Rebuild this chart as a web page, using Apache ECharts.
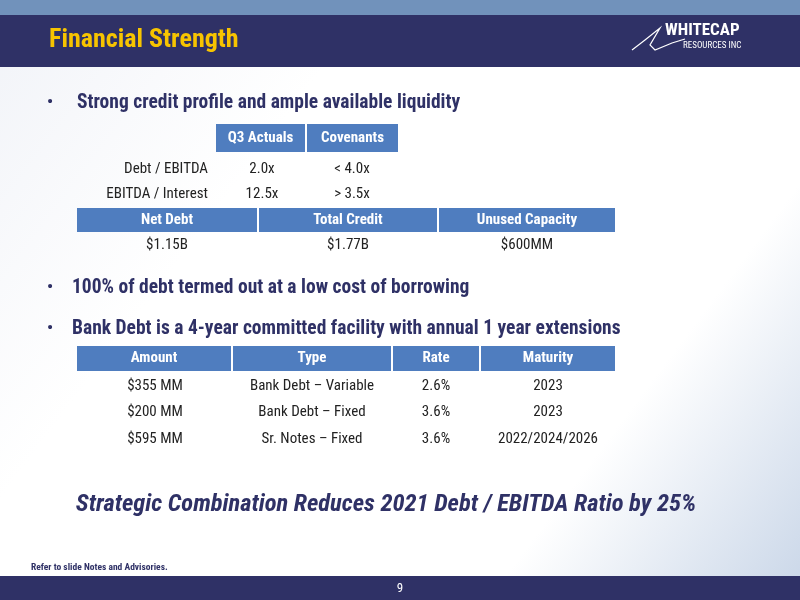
<!DOCTYPE html>
<html><head><meta charset="utf-8">
<script src="https://cdn.jsdelivr.net/npm/echarts@6/dist/echarts.min.js"></script>
<style>html,body{margin:0;padding:0}#c{width:800px;height:600px}</style></head>
<body><div id="c"></div>
<script>
const title = 'Financial Strength';
const bullets = ['Strong credit profile and ample available liquidity','100% of debt termed out at a low cost of borrowing','Bank Debt is a 4-year committed facility with annual 1 year extensions'];
const t1Headers = ['Q3 Actuals','Covenants'];
const t1Rows = ['Debt / EBITDA','EBITDA / Interest'];
const t1Actuals = ['2.0x','12.5x'];
const t1Covenants = ['< 4.0x','> 3.5x'];
const t2Headers = ['Net Debt','Total Credit','Unused Capacity'];
const t2Values = ['$1.15B','$1.77B','$600MM'];
const t3Headers = ['Amount','Type','Rate','Maturity'];
const t3Amount = ['$355 MM','$200 MM','$595 MM'];
const t3Type = ['Bank Debt \u2013 Variable','Bank Debt \u2013 Fixed','Sr. Notes \u2013 Fixed'];
const t3Rate = ['2.6%','3.6%','3.6%'];
const t3Maturity = ['2023','2023','2022/2024/2026'];
const tagline = 'Strategic Combination Reduces 2021 Debt / EBITDA Ratio by 25%';
const footnote = 'Refer to slide Notes and Advisories.';
const pageNo = '9';

const F = 'Liberation Sans Narrow, Roboto Condensed, Liberation Sans, sans-serif';
const NAVY = '#2f3166', HB = '#4f7dbf';
const g = [];
g.push({type:'rect',shape:{x:0,y:0,width:800,height:600},style:{fill:new echarts.graphic.LinearGradient(0,0,1,1,[{offset:0,color:'#f1f3f8'},{offset:0.3,color:'#ffffff'},{offset:0.75,color:'#ffffff'},{offset:1,color:'#c9d6e8'}])}});
g.push({type:'rect',shape:{x:0,y:0,width:800,height:15},style:{fill:'#7192bb'}});
g.push({type:'rect',shape:{x:0,y:15,width:800,height:52},style:{fill:NAVY}});
g.push({type:'text',x:49,y:40,style:{text:title,fill:'#f7c400',font:'bold 26px '+F,verticalAlign:'middle'}});
g.push({type:'text',x:665,y:31,style:{text:'WHITECAP',fill:'#fff',font:'bold 17px '+F,verticalAlign:'middle'}});
g.push({type:'text',x:683,y:46,style:{text:'RESOURCES INC',fill:'#fff',font:'9px '+F,verticalAlign:'middle'}});
g.push({type:'polyline',shape:{points:[[632,50],[645,40],[660,28],[650,45],[655,50],[672,43],[685,39]]},style:{stroke:'#fff',lineWidth:1.2,fill:null}});
g.push({type:'rect',shape:{x:0,y:576,width:800,height:24},style:{fill:NAVY}});
g.push({type:'text',x:400,y:589,style:{text:pageNo,fill:'#fff',font:'13px '+F,align:'center',verticalAlign:'middle'}});
g.push({type:'text',x:31,y:568,style:{text:footnote,fill:NAVY,font:'bold 9.5px '+F,verticalAlign:'middle'}});
const by=[103,288,329], bx=[77,72,72];
bullets.forEach((b,i)=>{
  g.push({type:'text',x:47,y:by[i],style:{text:'\u2022',fill:NAVY,font:'bold 17px '+F,verticalAlign:'middle'}});
  g.push({type:'text',x:bx[i],y:by[i],style:{text:b,fill:NAVY,font:'bold 19.5px '+F,verticalAlign:'middle'}});
});
function hdr(x1,x2,y1,y2,t){
  g.push({type:'rect',shape:{x:x1,y:y1,width:x2-x1,height:y2-y1},style:{fill:HB}});
  g.push({type:'text',x:(x1+x2)/2,y:(y1+y2)/2,style:{text:t,fill:'#fff',font:'bold 15px '+F,align:'center',verticalAlign:'middle'}});
}
function cell(x,y,t,al){g.push({type:'text',x:x,y:y,style:{text:t,fill:'#222',font:'15px '+F,align:al||'center',verticalAlign:'middle'}});}
const c1=[[216,305],[307,398]];
t1Headers.forEach((h,i)=>hdr(c1[i][0],c1[i][1],124,152,h));
const r1=[169,194];
t1Rows.forEach((r,i)=>{cell(208,r1[i],r,'right');cell(262,r1[i],t1Actuals[i]);cell(352,r1[i],t1Covenants[i]);});
const c2=[[77,257],[259,437],[439,615]];
t2Headers.forEach((h,i)=>{hdr(c2[i][0],c2[i][1],208,232,h);cell((c2[i][0]+c2[i][1])/2,245,t2Values[i]);});
const c3=[[77,231],[233,391],[393,479],[481,615]];
t3Headers.forEach((h,i)=>hdr(c3[i][0],c3[i][1],346,371,h));
const r3=[386,412,439];
[t3Amount,t3Type,t3Rate,t3Maturity].forEach((col,j)=>col.forEach((v,i)=>cell(j==0?155:(c3[j][0]+c3[j][1])/2,r3[i],v)));
g.push({type:'text',x:386,y:505,style:{text:tagline,fill:NAVY,font:'italic bold 24.5px '+F,align:'center',verticalAlign:'middle'}});
const chart=echarts.init(document.getElementById('c'));
chart.setOption({animation:false,graphic:{elements:g}});
</script></body></html>
